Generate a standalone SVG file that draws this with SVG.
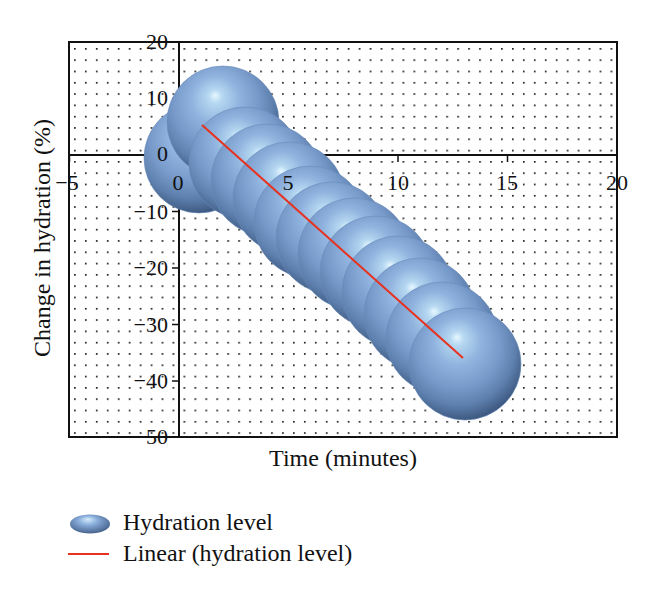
<svg xmlns="http://www.w3.org/2000/svg" width="660" height="599" viewBox="0 0 660 599">
<style>
.t{font-family:"Liberation Serif","Times New Roman",serif;fill:#111;}
.tick{font-size:22px;}
.title{font-size:24px;}
.ax{stroke:#111;stroke-width:2;fill:none;}
.tk{stroke:#111;stroke-width:1.5;}
.b{fill:url(#bg);stroke:#6a8cba;stroke-width:0.6;}
</style>
<defs>
<pattern id="dots" patternUnits="userSpaceOnUse" x="74" y="48" width="10.95" height="11.3">
<rect x="0" y="0" width="1.7" height="1.7" fill="#222"/>
</pattern>
<radialGradient id="bg" cx="0.44" cy="0.38" r="0.62" fx="0.43" fy="0.26">
<stop offset="0" stop-color="#e6f7ff"/>
<stop offset="0.1" stop-color="#b6d8f1"/>
<stop offset="0.35" stop-color="#8fb2de"/>
<stop offset="0.62" stop-color="#7799c9"/>
<stop offset="0.82" stop-color="#5e80ae"/>
<stop offset="1" stop-color="#3e5a82"/>
</radialGradient>
<radialGradient id="lg" cx="0.45" cy="0.4" r="0.62" fx="0.45" fy="0.25">
<stop offset="0" stop-color="#d6eefc"/>
<stop offset="0.4" stop-color="#87abd9"/>
<stop offset="1" stop-color="#45618a"/>
</radialGradient>
</defs>
<rect width="660" height="599" fill="#fff"/>
<g id="plot-area">
<rect x="69" y="42" width="548" height="395" fill="#fff"/>
<rect x="69" y="42" width="548" height="395" fill="url(#dots)"/>
</g>
<g id="axes">
<rect class="ax" x="69" y="42" width="548" height="395"/>
<line class="ax" x1="179" y1="42" x2="179" y2="437"/>
<line class="ax" x1="69" y1="155" x2="617" y2="155"/>
<g class="tk">
<line x1="69.5" y1="155" x2="69.5" y2="162"/>
<line x1="288.5" y1="155" x2="288.5" y2="162"/>
<line x1="398" y1="155" x2="398" y2="162"/>
<line x1="507.5" y1="155" x2="507.5" y2="162"/>
<line x1="172" y1="98.5" x2="179" y2="98.5"/>
<line x1="172" y1="211.5" x2="179" y2="211.5"/>
<line x1="172" y1="268" x2="179" y2="268"/>
<line x1="172" y1="324.5" x2="179" y2="324.5"/>
<line x1="172" y1="381" x2="179" y2="381"/>
</g>
</g>
<g id="bubbles">
<circle id="b1" class="b" cx="199" cy="158" r="55"/>
<circle id="b2" class="b" cx="223" cy="122" r="56"/>
<circle id="b3" class="b" cx="245" cy="163" r="56"/>
<circle id="b4" class="b" cx="267" cy="180" r="56"/>
<circle id="b5" class="b" cx="289" cy="198" r="56"/>
<circle id="b6" class="b" cx="310" cy="222" r="56"/>
<circle id="b7" class="b" cx="332" cy="238" r="56"/>
<circle id="b8" class="b" cx="354" cy="254" r="56"/>
<circle id="b9" class="b" cx="376" cy="272" r="56"/>
<circle id="b10" class="b" cx="398" cy="292" r="56"/>
<circle id="b11" class="b" cx="420" cy="314" r="56"/>
<circle id="b12" class="b" cx="442" cy="338" r="56"/>
<circle id="b13" class="b" cx="465" cy="364" r="56"/>
</g>
<g id="trendline">
<line x1="202" y1="125" x2="463" y2="358" stroke="#e8311e" stroke-width="2"/>
</g>
<g id="tick-labels" class="t tick">
<g text-anchor="end">
<text x="168" y="49">20</text>
<text x="168" y="105">10</text>
<text x="168" y="161">0</text>
<text x="168" y="219">−10</text>
<text x="168" y="275">−20</text>
<text x="168" y="332">−30</text>
<text x="168" y="388">−40</text>
<text x="168" y="444">−50</text>
</g>
<g text-anchor="middle">
<text x="67" y="190">−5</text>
<text x="178" y="190">0</text>
<text x="288" y="190">5</text>
<text x="398" y="190">10</text>
<text x="507" y="190">15</text>
<text x="617" y="190">20</text>
</g>
</g>
<g id="axis-titles" class="t title">
<text x="343" y="466" text-anchor="middle">Time (minutes)</text>
<text transform="translate(50,238) rotate(-90)" text-anchor="middle">Change in hydration (%)</text>
</g>
<g id="legend" class="t title">
<ellipse cx="90" cy="524" rx="20" ry="9.5" fill="url(#lg)"/>
<text x="123" y="530">Hydration level</text>
<line x1="68" y1="554" x2="109" y2="554" stroke="#e8311e" stroke-width="2"/>
<text x="123" y="561">Linear (hydration level)</text>
</g>
</svg>
